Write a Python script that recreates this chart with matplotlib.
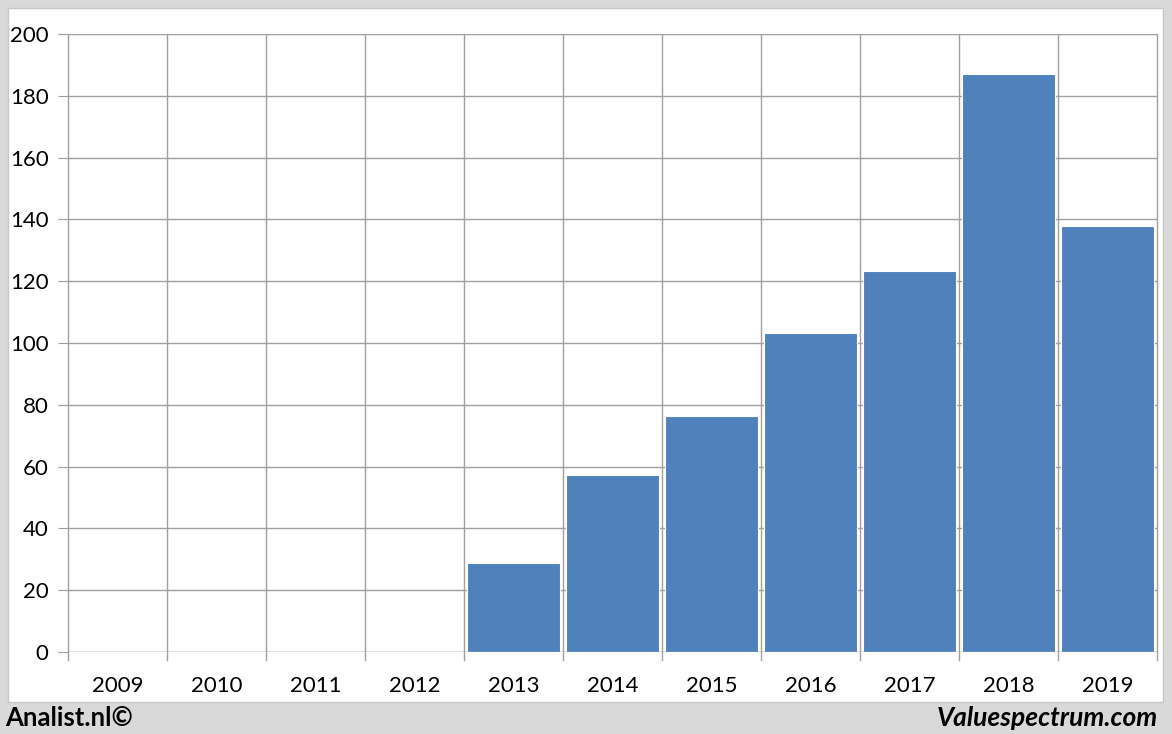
import matplotlib.pyplot as plt
from matplotlib.patches import Rectangle

years = ["2009", "2010", "2011", "2012", "2013", "2014", "2015", "2016", "2017", "2018", "2019"]
values = [0, 0, 0, 0, 28.8, 57.3, 76.4, 103.2, 123.3, 187.0, 137.9]
yticks = [0, 20, 40, 60, 80, 100, 120, 140, 160, 180, 200]

plt.rcParams["font.family"] = ["Lato", "DejaVu Sans"]

fig = plt.figure(figsize=(11.72, 7.34), dpi=100, facecolor="#d9d9d9")
fig.patches.append(Rectangle((8 / 1172, 32 / 734), 1155 / 1172, 694 / 734,
                             transform=fig.transFigure, facecolor="white",
                             edgecolor="#c8c8c8", linewidth=1, zorder=-5))

ax = fig.add_axes([68 / 1172, 82 / 734, 1089 / 1172, 618 / 734])
ax.set_zorder(2)
ax.patch.set_alpha(0)
x = list(range(len(years)))
ax.bar(x, values, width=0.93, color="#4f81bd", edgecolor="white", linewidth=0.8, zorder=3)

ax.set_xlim(-0.5, len(years) - 0.5)
ax.set_ylim(0, 200)
ax.set_yticks(yticks)
ax.set_xticks(x)
ax.set_xticklabels(years)
ax.tick_params(axis="y", length=7, color="#a0a0a0", labelsize=16, pad=7)
ax.tick_params(axis="x", length=0, labelsize=16, pad=17)

# vertical grid at category boundaries, extending below the axis as ticks
for b in range(len(years) + 1):
    ax.axvline(b - 0.5, ymin=-0.013, ymax=1, color="#a0a0a0", linewidth=1, clip_on=False, zorder=1)
ax.grid(axis="y", color="#a0a0a0", linewidth=1, zorder=1)
for s in ax.spines.values():
    s.set_visible(False)
ax.axhline(0, color="#a0a0a0", linewidth=1, zorder=4)

fig.text(5 / 1172, 16 / 734, "Analist.nl©", fontsize=18.5, fontweight="bold", ha="left", va="center")
fig.text(1158 / 1172, 16 / 734, "Valuespectrum.com", fontsize=19, fontweight="bold",
         fontstyle="italic", ha="right", va="center")

fig.savefig("out.png", dpi=100, facecolor=fig.get_facecolor())
